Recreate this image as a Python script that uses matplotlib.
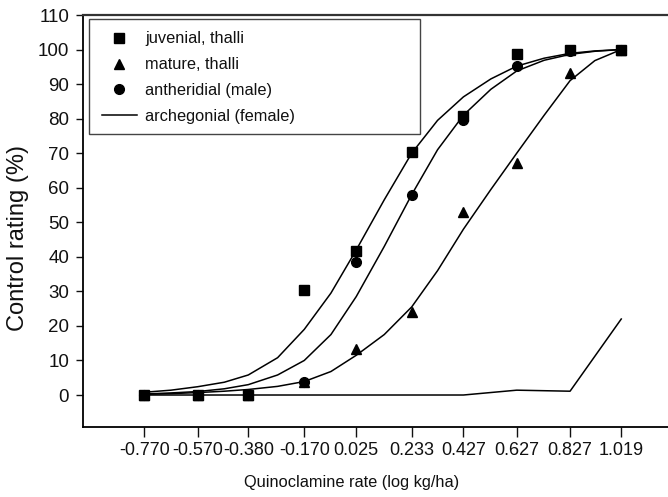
import matplotlib
matplotlib.use("Agg")
import matplotlib.pyplot as plt
from matplotlib.patches import Rectangle

plt.rcParams['font.family'] = ['Liberation Sans', 'DejaVu Sans']

# ---- data ----
rates = [-0.770, -0.570, -0.380, -0.170, 0.025, 0.233, 0.427, 0.627, 0.827, 1.019]
tick_labels = ["-0.770", "-0.570", "-0.380", "-0.170", "0.025", "0.233",
               "0.427", "0.627", "0.827", "1.019"]

juvenile = [0, 0, 0, 30.4, 41.8, 70.4, 80.9, 98.6, 100, 100]
mature = [0, 0, 0, 3.9, 13.3, 23.9, 53.0, 67.3, 93.1, 100]
antheridial = [0, 0, 0, 3.8, 38.6, 57.8, 79.7, 95.3, 99.7, 100]
archegonial = [0, 0, 0, 0, 0, 0, 0, 1.4, 1.1, 22.0]

# fitted response curves
curve_x = [-0.770, -0.670, -0.570, -0.470, -0.380, -0.270, -0.170, -0.070,
           0.025, 0.130, 0.233, 0.330, 0.427, 0.530, 0.627, 0.730, 0.827,
           0.920, 1.019]
curve_juvenile = [0.8, 1.4, 2.4, 3.7, 5.8, 10.8, 19.0, 29.5, 42.0, 56.5, 70.0,
                  79.5, 86.3, 91.5, 95.2, 97.5, 98.9, 99.6, 100.0]
curve_antheridial = [0.3, 0.6, 1.0, 1.8, 3.0, 5.8, 10.0, 17.5, 28.5, 43.0, 58.0,
                     71.0, 81.0, 88.5, 93.8, 96.9, 98.6, 99.5, 100.0]
curve_mature = [0.2, 0.4, 0.7, 1.1, 1.6, 2.5, 3.9, 6.8, 11.5, 17.5, 25.5, 36.0,
                48.0, 59.5, 70.0, 81.0, 91.0, 96.8, 100.0]

labels = ["juvenial, thalli", "mature, thalli", "antheridial (male)",
          "archegonial (female)"]

# ---- figure ----
W, H = 668, 497
AX_L, AX_T, AX_W, AX_H = 83, 15, 586.5, 412
fig = plt.figure(figsize=(W / 100, H / 100), dpi=100)
ax = fig.add_axes([AX_L / W, (H - AX_T - AX_H) / H, AX_W / W, AX_H / H])

lw = 1.1
ax.plot(curve_x, curve_juvenile, color='black', lw=lw, zorder=2)
ax.plot(curve_x, curve_antheridial, color='black', lw=lw, zorder=2)
ax.plot(curve_x, curve_mature, color='black', lw=lw, zorder=2)
h_arch, = ax.plot(rates, archegonial, color='black', lw=lw, zorder=2)

ms = 7
h_mat, = ax.plot(rates, mature, ls='none', marker='^', ms=ms, color='black', zorder=3)
h_ant, = ax.plot(rates, antheridial, ls='none', marker='o', ms=ms, color='black', zorder=4)
h_juv, = ax.plot(rates, juvenile, ls='none', marker='s', ms=ms, color='black', zorder=5)

ax.set_xlim(-1.0, 1.2)
ax.set_ylim(-9.26, 110)
ax.set_xticks(rates)
ax.set_xticklabels(tick_labels)
ax.set_yticks(range(0, 111, 10))

ax.tick_params(axis='both', direction='out', width=1, colors='#111111')
ax.tick_params(axis='x', length=7, pad=4, labelsize=13)
ax.tick_params(axis='y', length=5, pad=5, labelsize=13.5)

for s in ['left', 'bottom']:
    ax.spines[s].set_linewidth(1.3)
ax.spines['top'].set_linewidth(1.6)
ax.spines['top'].set_color('#333333')
ax.spines['right'].set_visible(False)

ax.set_xlabel("Quinoclamine rate (log kg/ha)", fontsize=11.8, color='#111111')
ax.set_ylabel("Control rating (%)", fontsize=17, color='#111111')
# label placement (pixel positions measured on the reference)
ax.xaxis.set_label_coords((352 - AX_L) / AX_W, -(475 - AX_T - AX_H) / AX_H)
ax.yaxis.set_label_coords((29 - AX_L) / AX_W, (AX_T + AX_H - 238) / AX_H)

# legend
leg = ax.legend([h_juv, h_mat, h_ant, h_arch], labels, loc='upper left',
                bbox_to_anchor=(101.7 / W, (H - 31.5) / H),
                bbox_transform=fig.transFigure, frameon=False, fontsize=11.8,
                handlelength=2.15, handletextpad=0.5, labelspacing=0.66,
                borderpad=0, borderaxespad=0)
for t in leg.get_texts():
    t.set_color('#111111')
fig.add_artist(Rectangle((89 / W, (H - 134) / H), 331 / W, 115 / H,
                         transform=fig.transFigure, fill=False,
                         edgecolor='#444444', lw=1.0))

fig.savefig("out.png", dpi=100)
